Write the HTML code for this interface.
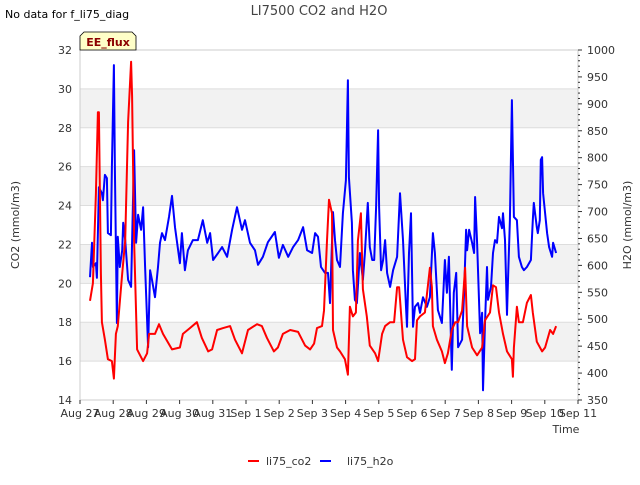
<!DOCTYPE html>
<html><head><meta charset="utf-8"><style>
body{margin:0;background:#fff;font-family:"Liberation Sans","DejaVu Sans",sans-serif;}
svg text{font-family:"DejaVu Sans","Liberation Sans",sans-serif;}
</style></head><body>
<svg id="chart" width="640" height="480" xmlns="http://www.w3.org/2000/svg">
<rect width="640" height="480" fill="#fff"/>
<g id="bands"></g><g id="grid"></g>
<rect x="80" y="50" width="498" height="350" fill="none" stroke="#ccc"/>
<g id="series"></g><g id="axes"></g>
<text x="319" y="15" text-anchor="middle" font-size="13" fill="#444">LI7500 CO2 and H2O</text>
<text x="5" y="18" font-size="11" fill="#000">No data for f_li75_diag</text>
<path d="M80,50 L80,36 L84,32 L132,32 L136,36 L136,50 Z" fill="#ffffc8" stroke="#000" stroke-width="0.8"/>
<text x="108" y="46" text-anchor="middle" font-size="11" font-weight="bold" fill="#8b0000">EE_flux</text>
<text transform="translate(19,225) rotate(-90)" text-anchor="middle" font-size="11" fill="#333">CO2 (mmol/m3)</text>
<text transform="translate(631,225) rotate(-90)" text-anchor="middle" font-size="11" fill="#333">H2O (mmol/m3)</text>
<text x="566" y="433" text-anchor="middle" font-size="11" fill="#333">Time</text>
<line x1="248" y1="461" x2="259" y2="461" stroke="#f00" stroke-width="2"/>
<text x="266" y="465" font-size="11" fill="#333">li75_co2</text>
<line x1="320" y1="461" x2="331" y2="461" stroke="#00f" stroke-width="2"/>
<text x="347" y="465" font-size="11" fill="#333">li75_h2o</text>
</svg>
<script>
const xTickLabels=["Aug 27","Aug 28","Aug 29","Aug 30","Aug 31","Sep 1","Sep 2","Sep 3","Sep 4","Sep 5","Sep 6","Sep 7","Sep 8","Sep 9","Sep 10","Sep 11"];
const leftTicks=[14,16,18,20,22,24,26,28,30,32];
const rightTicks=[350,400,450,500,550,600,650,700,750,800,850,900,950,1000];
const co2Days=[0.30,0.39,0.48,0.54,0.57,0.63,0.66,0.75,0.84,0.96,1.02,1.08,1.14,1.27,1.36,1.45,1.54,1.57,1.63,1.72,1.81,1.90,2.02,2.08,2.26,2.38,2.50,2.77,3.01,3.10,3.31,3.52,3.67,3.86,3.98,4.13,4.31,4.52,4.67,4.88,5.06,5.33,5.48,5.63,5.84,5.96,6.11,6.33,6.57,6.78,6.93,7.05,7.14,7.29,7.35,7.44,7.50,7.59,7.62,7.74,7.83,7.98,8.07,8.13,8.22,8.31,8.37,8.46,8.52,8.64,8.73,8.89,8.98,9.10,9.19,9.34,9.46,9.55,9.61,9.73,9.85,10.00,10.09,10.15,10.24,10.39,10.54,10.60,10.63,10.75,10.90,10.99,11.08,11.20,11.30,11.39,11.51,11.60,11.66,11.81,11.96,12.11,12.20,12.35,12.44,12.53,12.62,12.74,12.86,13.01,13.04,13.07,13.16,13.22,13.34,13.46,13.58,13.64,13.76,13.92,14.01,14.16,14.25,14.34];
const co2Values=[19.1,20.0,24.6,28.8,28.8,20.5,18.0,17.1,16.1,16.0,15.1,17.4,17.8,20.5,22.2,28.3,31.4,29.6,22.2,16.6,16.3,16.0,16.4,17.4,17.4,17.9,17.4,16.6,16.7,17.4,17.7,18.0,17.2,16.5,16.6,17.6,17.7,17.8,17.1,16.4,17.6,17.9,17.8,17.2,16.5,16.7,17.4,17.6,17.5,16.8,16.6,16.9,17.7,17.8,18.6,22.2,24.3,23.6,17.6,16.7,16.5,16.1,15.3,18.8,18.3,18.5,22.2,23.6,19.7,18.3,16.8,16.4,16.0,17.4,17.8,18.0,18.0,19.8,19.8,17.1,16.2,16.0,16.1,18.1,18.3,18.5,20.8,19.8,17.8,17.1,16.5,15.9,16.4,17.6,18.0,18.0,18.6,20.8,17.8,16.7,16.3,16.7,18.1,18.5,19.9,19.8,18.5,17.4,16.5,16.1,15.2,16.7,18.8,18.0,18.0,19.0,19.4,18.5,17.0,16.5,16.7,17.6,17.4,17.8];
const h2oDays=[0.30,0.36,0.39,0.48,0.51,0.57,0.66,0.69,0.75,0.81,0.84,0.93,0.96,1.02,1.05,1.11,1.14,1.20,1.27,1.30,1.36,1.45,1.54,1.63,1.69,1.75,1.84,1.90,1.96,2.05,2.11,2.17,2.26,2.35,2.41,2.47,2.56,2.68,2.77,2.86,3.01,3.07,3.16,3.25,3.40,3.55,3.70,3.83,3.92,4.01,4.16,4.28,4.43,4.58,4.73,4.88,4.97,5.12,5.27,5.36,5.51,5.66,5.87,5.99,6.11,6.27,6.42,6.57,6.72,6.84,6.99,7.08,7.17,7.26,7.38,7.47,7.53,7.62,7.68,7.74,7.83,7.92,8.01,8.07,8.10,8.19,8.22,8.28,8.34,8.43,8.52,8.58,8.67,8.73,8.80,8.86,8.92,8.98,9.01,9.07,9.13,9.19,9.25,9.34,9.43,9.55,9.64,9.73,9.82,9.85,9.91,9.97,10.03,10.09,10.18,10.24,10.33,10.45,10.54,10.63,10.69,10.78,10.90,10.99,11.05,11.11,11.17,11.20,11.26,11.33,11.39,11.51,11.57,11.63,11.66,11.72,11.81,11.87,11.90,11.96,12.05,12.11,12.14,12.20,12.26,12.29,12.38,12.44,12.50,12.56,12.62,12.71,12.74,12.80,12.86,12.89,12.95,13.01,13.07,13.16,13.22,13.31,13.37,13.46,13.58,13.64,13.67,13.76,13.79,13.85,13.88,13.92,13.95,14.01,14.07,14.13,14.22,14.25,14.34];
const h2oValues=[578,642,597,604,577,745,734,721,768,762,660,656,783,972,777,493,653,597,628,679,647,573,560,814,642,694,666,708,597,448,591,573,541,597,642,660,647,690,729,671,604,660,591,628,647,647,684,642,660,610,623,634,616,666,708,666,684,642,628,601,616,643,662,614,638,616,634,647,671,628,623,660,653,597,586,586,530,699,647,610,597,697,758,944,764,679,591,536,530,623,573,623,716,634,610,610,708,851,708,591,610,647,586,560,591,616,734,647,523,486,623,697,486,523,530,512,541,523,541,660,623,517,493,610,549,616,474,406,549,586,448,462,549,666,628,666,642,623,727,642,474,512,368,493,597,536,560,623,647,642,690,669,697,647,508,567,684,907,690,684,616,597,591,597,610,684,716,671,660,684,796,801,734,697,660,634,616,642,623];

const X0=80,X1=578,Y0=400,Y1=50,NS='http://www.w3.org/2000/svg';
const xs=d=>X0+d*(X1-X0)/15;
const yL=v=>Y0-(v-14)*(Y0-Y1)/18;
const yR=v=>Y0-(v-350)*(Y0-Y1)/650;
function mk(tag,attrs,parent){const e=document.createElementNS(NS,tag);for(const k in attrs)e.setAttribute(k,attrs[k]);document.getElementById(parent).appendChild(e);return e;}
for(let v=16;v<32;v+=4){
  const r=mk('rect',{x:X0,y:yL(v+2),width:X1-X0,height:yL(v)-yL(v+2),fill:'#f2f2f2'},'bands');
  
  
}
leftTicks.forEach(v=>{
  const l=mk('line',{x1:X0,x2:X1,y1:yL(v),y2:yL(v),stroke:'#ddd'},'grid');
  
  
  const t=mk('text',{x:X0-8,y:yL(v)+4,'text-anchor':'end','font-size':11,fill:'#333'},'axes');
  t.textContent=v;
  
  
});
rightTicks.forEach(v=>{
  const t=mk('text',{x:X1+9,y:yR(v)+4,'font-size':11,fill:'#333'},'axes');
  t.textContent=v;
  
  
  const l=mk('line',{x1:X1,x2:X1+4,y1:yR(v),y2:yR(v),stroke:'#333'},'axes');
  
  
});
for(let v=360;v<1000;v+=10){if(v%50===0)continue;
  const l=mk('line',{x1:X1,x2:X1+2,y1:yR(v),y2:yR(v),stroke:'#333'},'axes');
  
  
}
xTickLabels.forEach((s,i)=>{
  const l=mk('line',{x1:xs(i),x2:xs(i),y1:Y0,y2:Y0+4,stroke:'#333'},'axes');
  
  
  const t=mk('text',{x:xs(i),y:Y0+17,'text-anchor':'middle','font-size':11,fill:'#333'},'axes');
  t.textContent=s;
  
  
});
const h=mk('polyline',{points:h2oDays.map((d,i)=>xs(d).toFixed(1)+','+yR(h2oValues[i]).toFixed(1)).join(' '),fill:'none',stroke:'#00f','stroke-width':2,'stroke-linejoin':'round'},'series');


const c=mk('polyline',{points:co2Days.map((d,i)=>xs(d).toFixed(1)+','+yL(co2Values[i]).toFixed(1)).join(' '),fill:'none',stroke:'#f00','stroke-width':2,'stroke-linejoin':'round'},'series');


</script>
</body></html>
